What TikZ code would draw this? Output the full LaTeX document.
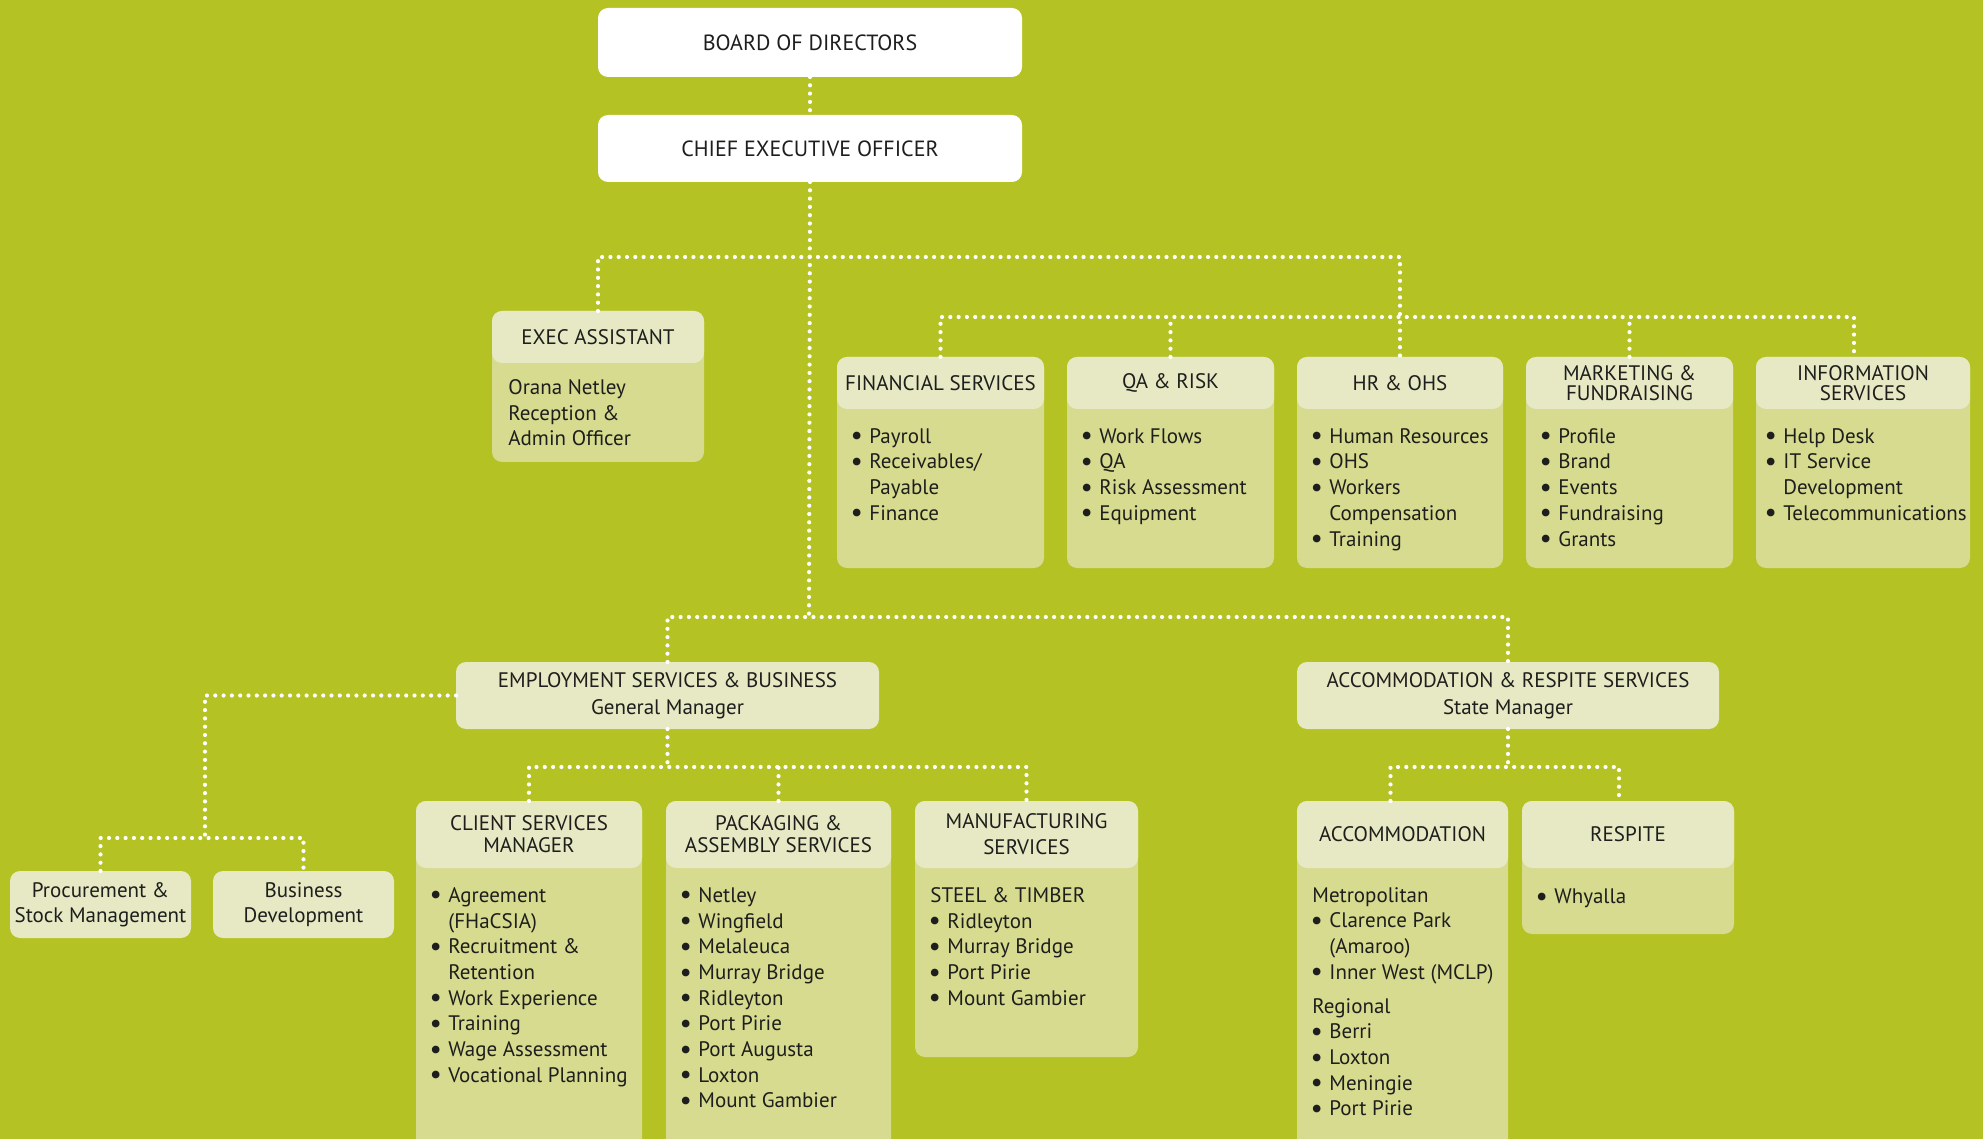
\documentclass[tikz,border=0pt]{standalone}
\usepackage{fontspec}
\setmainfont{PT Sans}
\usetikzlibrary{positioning,fit}
\definecolor{leaf}{HTML}{B4C224}
\definecolor{hdrfill}{HTML}{E6E9C3}
\definecolor{bodyfill}{HTML}{D7DB8F}
\definecolor{ink}{HTML}{1E1E1C}
\newcommand{\blt}{\makebox[8.5pt][l]{\hspace{-0.9pt}\raisebox{-0.8pt}{\scalebox{1.3}{\textbullet}}}}
\newcommand{\contd}{\hspace*{8.5pt}}
\tikzset{
  boxbase/.style={rounded corners=5pt, inner sep=0pt, outer sep=0pt},
  topbox/.style={boxbase, fill=white},
  hdr/.style={boxbase, fill=hdrfill},
  body/.style={boxbase, fill=bodyfill},
  title/.style={inner sep=0pt, text=ink, align=center},
  list/.style={anchor=north west, inner sep=0pt, align=left, text=ink,
               execute at begin node=\rule{0pt}{8pt}},
  conn/.style={draw=white, line width=2.1pt, line cap=round, dash pattern=on 0pt off 4.15pt}
}

\begin{document}
\begin{tikzpicture}[x=0.5pt, y=-0.5pt, font=\fontsize{10.5}{12.85}\selectfont]
\clip (0,0) rectangle (1983,1139);
\fill[leaf] (0,0) rectangle (1983,1139);

% board and ceo
\node[topbox, fit={(598,8)(1022,77)}] (board) {};
\node[title, font=\fontsize{11}{13}\selectfont] at (board) {BOARD OF DIRECTORS};
\node[topbox, fit={(598,115)(1022,182)}] (ceo) {};
\node[title, font=\fontsize{11}{13}\selectfont] at (ceo) {CHIEF EXECUTIVE OFFICER};

% exec assistant
\node[body, fit={(492,311)(704,462)}] (execB) {};
\node[hdr, fit={(492,311)(704,363)}] (exec) {};
\node[title] at (exec) {EXEC ASSISTANT};
\node[list] (execL) at (508,379) {Orana Netley\\Reception \&\\Admin Officer};

% support services
\node[body, fit={(837,357)(1044,568)}] (finB) {};
\node[hdr, fit={(837,357)(1044,409)}] (fin) {};
\node[title] at (fin) {FINANCIAL SERVICES};
\node[list] (finL) at (852,428) {\blt Payroll\\\blt Receivables/\\\contd Payable\\\blt Finance};

\node[body, fit={(1067,357)(1274,568)}] (qaB) {};
\node[hdr, fit={(1067,357)(1274,409)}] (qa) {};
\node[title] at (qa) {QA \& RISK};
\node[list] (qaL) at (1082,428) {\blt Work Flows\\\blt QA\\\blt Risk Assessment\\\blt Equipment};

\node[body, fit={(1297,357)(1503,568)}] (hrB) {};
\node[hdr, fit={(1297,357)(1503,409)}] (hr) {};
\node[title] at (hr) {HR \& OHS};
\node[list] (hrL) at (1312,428) {\blt Human Resources\\\blt OHS\\\blt Workers\\\contd Compensation\\\blt Training};

\node[body, fit={(1526,357)(1733,568)}] (mktB) {};
\node[hdr, fit={(1526,357)(1733,409)}] (mkt) {};
\node[title, font=\fontsize{10.5}{10}\selectfont] at (mkt) {MARKETING \&\\FUNDRAISING};
\node[list] (mktL) at (1541,428) {\blt Profile\\\blt Brand\\\blt Events\\\blt Fundraising\\\blt Grants};

\node[body, fit={(1756,357)(1970,568)}] (infoB) {};
\node[hdr, fit={(1756,357)(1970,409)}] (info) {};
\node[title, font=\fontsize{10.5}{10}\selectfont] at (info) {INFORMATION\\SERVICES};
\node[list] (infoL) at (1766,428) {\blt Help Desk\\\blt IT Service\\\contd Development\\\blt Telecommunications};

% general managers
\node[hdr, fit={(456,662)(879,729)}] (emp) {};
\node[title, font=\fontsize{10.5}{13.5}\selectfont] at (emp) {EMPLOYMENT SERVICES \& BUSINESS\\General Manager};
\node[hdr, fit={(1297,662)(1719,729)}] (acr) {};
\node[title, font=\fontsize{10.5}{13.5}\selectfont] at (acr) {ACCOMMODATION \& RESPITE SERVICES\\State Manager};

\node[hdr, fit={(10,871)(191,938)}] (proc) {};
\node[title, font=\fontsize{10.5}{12.5}\selectfont] at (proc) {Procurement \&\\Stock Management};
\node[hdr, fit={(213,871)(394,938)}] (bus) {};
\node[title, font=\fontsize{10.5}{12.5}\selectfont] at (bus) {Business\\Development};

% employment units
\node[body, fit={(416,801)(642,1180)}] (clientB) {};
\node[hdr, fit={(416,801)(642,868)}] (client) {};
\node[title, font=\fontsize{10.5}{11}\selectfont] at (client) {CLIENT SERVICES\\MANAGER};
\node[list] (clientL) at (431,887) {\blt Agreement\\\contd (FHaCSIA)\\\blt Recruitment \&\\\contd Retention\\\blt Work Experience\\\blt Training\\\blt Wage Assessment\\\blt Vocational Planning};

\node[body, fit={(666,801)(891,1180)}] (pkgB) {};
\node[hdr, fit={(666,801)(891,868)}] (pkg) {};
\node[title, font=\fontsize{10.5}{11}\selectfont] at (pkg) {PACKAGING \&\\ASSEMBLY SERVICES};
\node[list] (pkgL) at (681,887) {\blt Netley\\\blt Wingfield\\\blt Melaleuca\\\blt Murray Bridge\\\blt Ridleyton\\\blt Port Pirie\\\blt Port Augusta\\\blt Loxton\\\blt Mount Gambier};

\node[body, fit={(915,801)(1138,1057)}] (mfgB) {};
\node[hdr, fit={(915,801)(1138,868)}] (mfg) {};
\node[title, font=\fontsize{10.5}{13}\selectfont] at (mfg) {MANUFACTURING\\SERVICES};
\node[list] (mfgL) at (930,887) {STEEL \& TIMBER\\\blt Ridleyton\\\blt Murray Bridge\\\blt Port Pirie\\\blt Mount Gambier};

% accommodation units
\node[body, fit={(1297,801)(1508,1180)}] (accomB) {};
\node[hdr, fit={(1297,801)(1508,868)}] (accom) {};
\node[title] at (accom) {ACCOMMODATION};
\node[list] (accomL) at (1312,887) {Metropolitan\\\blt Clarence Park\\\contd (Amaroo)\\\blt Inner West (MCLP)\\[4pt]Regional\\\blt Berri\\\blt Loxton\\\blt Meningie\\\blt Port Pirie};

\node[body, fit={(1522,801)(1734,934)}] (respiteB) {};
\node[hdr, fit={(1522,801)(1734,868)}] (respite) {};
\node[title] at (respite) {RESPITE};
\node[list] (respiteL) at (1537,887) {\blt Whyalla};

% connectors
\coordinate (tier1) at (809,257);
\coordinate (tier2) at (1395,317);
\coordinate (tier3) at (809,617);
\coordinate (tier4) at (666,767);
\coordinate (tier5) at (205,838);
\draw[conn] (board) -- (ceo);
\draw[conn] (ceo.south) -- (tier3);
\draw[conn] (exec.north) |- (tier1) -| (hr.north);
\draw[conn] (fin.north) |- (tier2) -| ([xshift=-4.5pt]info.north);
\draw[conn] (qa.north) -- (qa.north |- tier2);
\draw[conn] (mkt.north) -- (mkt.north |- tier2);
\draw[conn] (emp.north) |- (tier3) -| (acr.north);
\draw[conn] (emp.west) -| (tier5);
\draw[conn] (proc.north) |- (tier5) -| (bus.north);
\draw[conn] (emp.south) -- (emp.south |- tier4);
\draw[conn] (client.north) |- (tier4) -| (mfg.north);
\draw[conn] (pkg.north) -- (pkg.north |- tier4);
\draw[conn] (acr.south) -- (acr.south |- tier4);
\draw[conn] ([xshift=-6pt]accom.north) |- (acr.south |- tier4) -| ([xshift=-4.5pt]respite.north);
\end{tikzpicture}
\end{document}
